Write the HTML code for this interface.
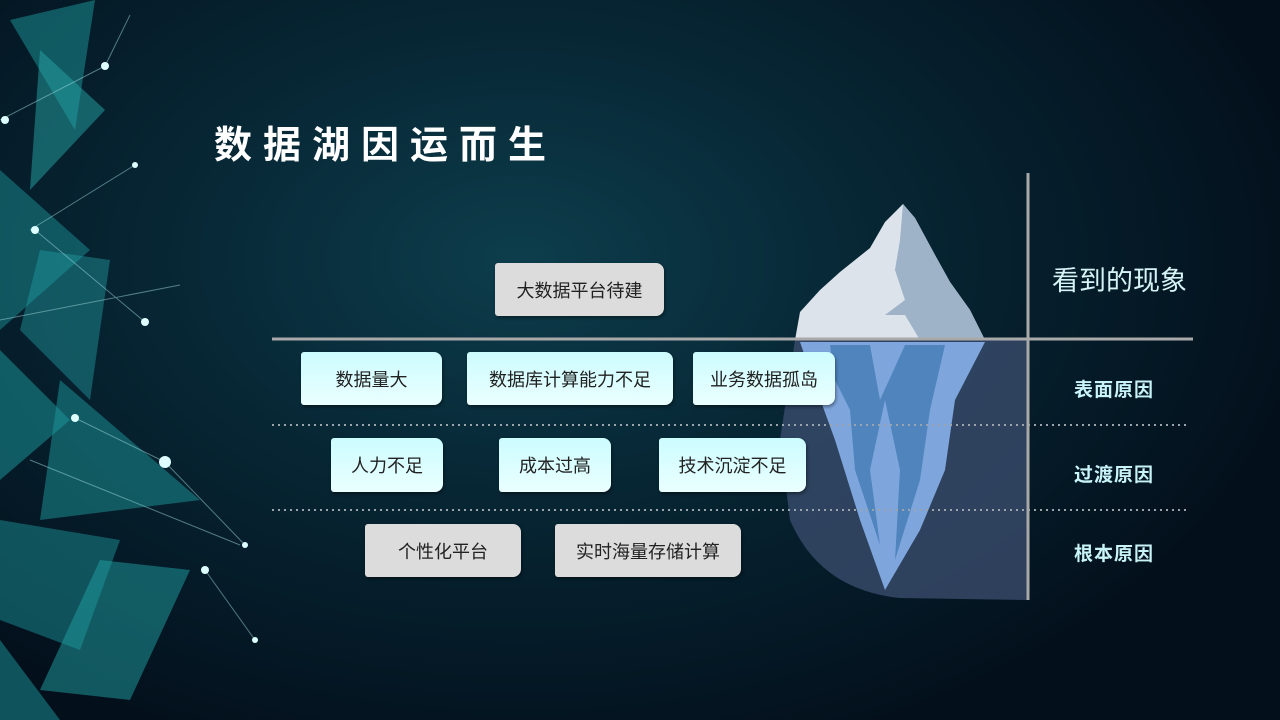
<!DOCTYPE html>
<html><head><meta charset="utf-8"><style>
body{margin:0;width:1280px;height:720px;overflow:hidden;position:relative;font-family:"Liberation Sans","Noto Sans CJK SC",sans-serif;
background:radial-gradient(ellipse 800px 520px at 520px 260px,#0d3d4c 0%,#072634 45%,#03101c 100%);}
.b{position:absolute;display:flex;align-items:center;justify-content:center;font-size:18px;color:#222;border-radius:3px 8px 8px 3px;box-shadow:1px 2px 3px rgba(0,0,0,.4)}
.g{background:#dcdcdc}.c{background:linear-gradient(#ccfcff,#eaffff)}
.l{position:absolute;color:#c8f4f8;font-weight:bold;font-size:19px;letter-spacing:1px}
.t{position:absolute;left:214px;top:114px;color:#fff;font-weight:bold;font-size:38px;letter-spacing:11px}
</style></head><body>
<svg width="1280" height="720" style="position:absolute;left:0;top:0">
<g opacity=".9">
<polygon points="10,20 95,0 75,130" fill="#1d9a9e" opacity=".55"/>
<polygon points="40,50 105,110 30,190" fill="#2ab3b3" opacity=".5"/>
<polygon points="0,170 90,250 0,330" fill="#1c8f96" opacity=".55"/>
<polygon points="40,250 110,260 90,400 20,330" fill="#23a9ac" opacity=".45"/>
<polygon points="0,350 70,420 0,480" fill="#1e9ea2" opacity=".55"/>
<polygon points="60,380 200,500 40,520" fill="#1fa5a8" opacity=".5"/>
<polygon points="0,520 120,540 80,650 0,620" fill="#1b9298" opacity=".55"/>
<polygon points="100,560 190,570 130,700 40,690" fill="#23b0b2" opacity=".5"/>
<polygon points="0,640 60,720 0,720" fill="#1d9a9e" opacity=".55"/>
</g>
<g stroke="#9fd8dc" stroke-width="1" opacity=".5">
<line x1="0" y1="120" x2="105" y2="66"/><line x1="105" y1="66" x2="130" y2="15"/>
<line x1="35" y1="230" x2="145" y2="322"/><line x1="75" y1="418" x2="165" y2="462"/>
<line x1="165" y1="462" x2="245" y2="545"/><line x1="0" y1="320" x2="180" y2="285"/>
<line x1="205" y1="570" x2="255" y2="640"/><line x1="30" y1="460" x2="240" y2="545"/>
<line x1="135" y1="165" x2="30" y2="230"/>
</g>
<g fill="#dff"><circle cx="105" cy="66" r="4"/><circle cx="35" cy="230" r="4"/><circle cx="145" cy="322" r="4"/><circle cx="75" cy="418" r="4"/><circle cx="165" cy="462" r="6"/><circle cx="205" cy="570" r="4"/><circle cx="245" cy="545" r="3"/><circle cx="135" cy="165" r="3"/><circle cx="5" cy="120" r="4"/><circle cx="255" cy="640" r="3"/></g>
<path d="M795,340 L1028,340 L1028,600 L900,598 Q820,590 790,520 L780,440 Z" fill="#3c4f70" opacity=".75"/>
<polygon points="795,340 800,312 820,290 840,272 870,248 885,222 903,204 915,218 935,255 950,282 970,310 985,340" fill="#dce3ea"/>
<polygon points="903,204 915,218 935,255 950,282 970,310 985,340 920,340 905,315 885,315 905,300 895,270 900,240" fill="#9eb2c8"/>
<polygon points="800,342 985,342 955,400 945,470 920,530 885,590 860,520 835,440 815,385" fill="#7ea6dc"/>
<polygon points="830,345 870,345 880,400 905,345 945,345 930,410 920,480 895,560 900,470 885,400 870,470 880,545 855,470 850,410 835,380" fill="#4f84bd"/>
<line x1="272" y1="339" x2="1193" y2="339" stroke="#a9a9a9" stroke-width="3"/>
<line x1="272" y1="425" x2="1190" y2="425" stroke="#9aa4aa" stroke-width="2" stroke-dasharray="2 4"/>
<line x1="272" y1="510" x2="1190" y2="510" stroke="#9aa4aa" stroke-width="2" stroke-dasharray="2 4"/>
<line x1="1028" y1="173" x2="1028" y2="600" stroke="#a9a9a9" stroke-width="3"/>
</svg>
<div class="t">数据湖因运而生</div>
<div class="b g" style="left:495px;top:263px;width:169px;height:53px">大数据平台待建</div>
<div class="b c" style="left:301px;top:352px;width:141px;height:53px">数据量大</div>
<div class="b c" style="left:467px;top:352px;width:206px;height:53px">数据库计算能力不足</div>
<div class="b c" style="left:693px;top:352px;width:142px;height:53px">业务数据孤岛</div>
<div class="b c" style="left:331px;top:438px;width:112px;height:54px">人力不足</div>
<div class="b c" style="left:499px;top:438px;width:112px;height:54px">成本过高</div>
<div class="b c" style="left:659px;top:438px;width:147px;height:54px">技术沉淀不足</div>
<div class="b g" style="left:365px;top:524px;width:156px;height:53px">个性化平台</div>
<div class="b g" style="left:555px;top:524px;width:186px;height:53px">实时海量存储计算</div>
<div style="position:absolute;left:1052px;top:259px;color:#d6f4f6;font-size:27px">看到的现象</div>
<div class="l" style="left:1074px;top:375px">表面原因</div>
<div class="l" style="left:1074px;top:460px">过渡原因</div>
<div class="l" style="left:1074px;top:539px">根本原因</div>
</body></html>
